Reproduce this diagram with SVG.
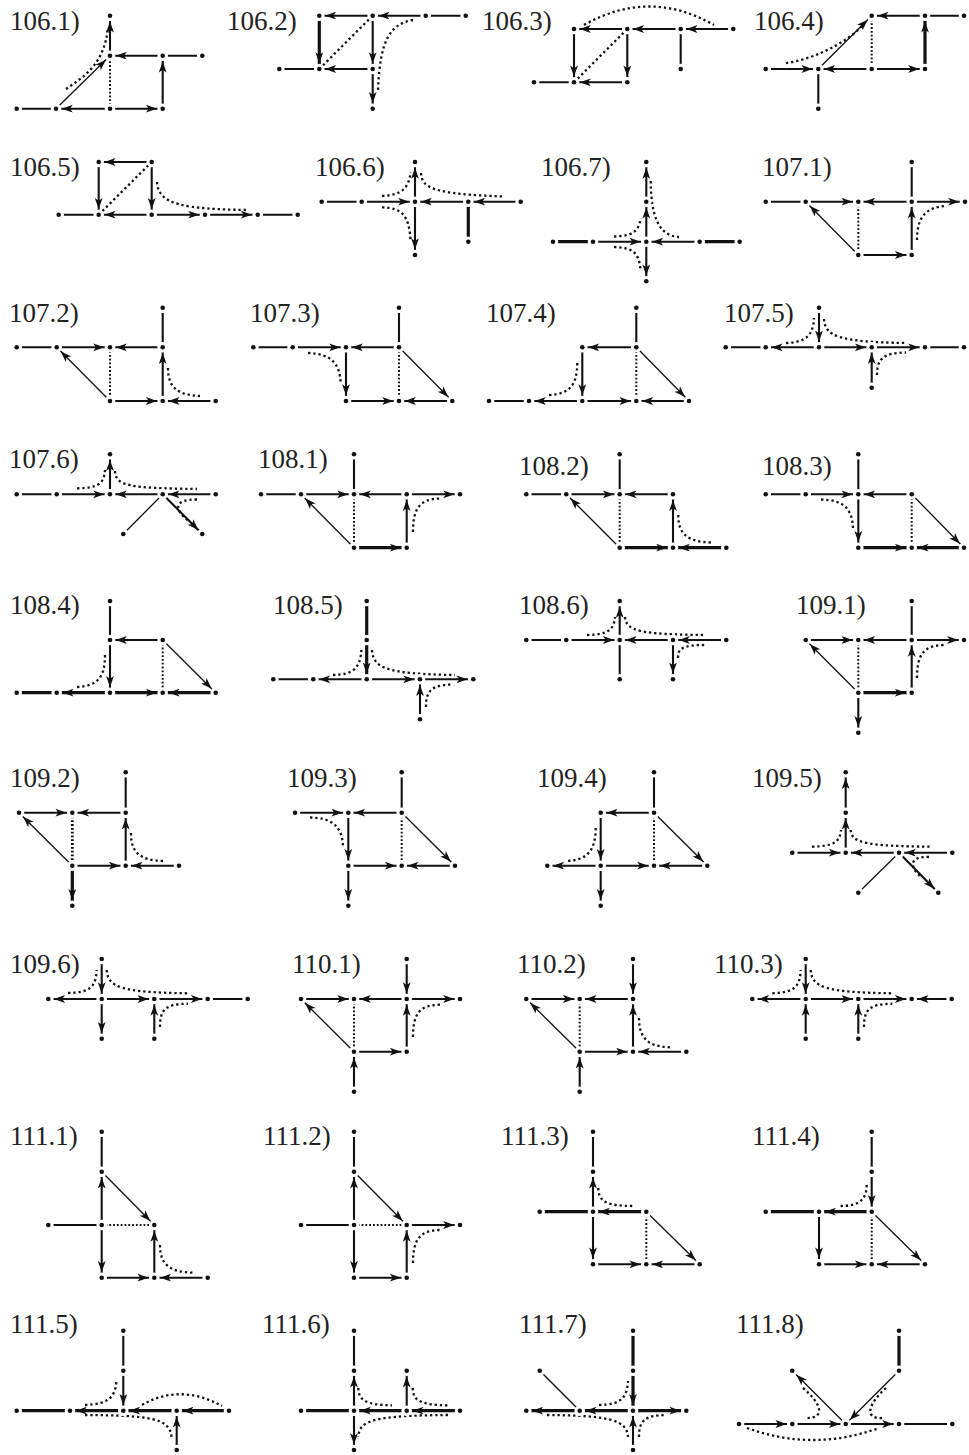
<svg xmlns="http://www.w3.org/2000/svg" xmlns:xlink="http://www.w3.org/1999/xlink" width="969" height="1455" viewBox="0 0 969 1455">
<style>
text{font-family:"Liberation Serif","Times New Roman",serif;font-size:27px;fill:#222}
.conn path{fill:none;stroke:#111;stroke-width:2.1}
.conn .t{stroke-width:3.2}
.conn .n{stroke-width:1.3}
.conn .d{stroke-dasharray:1.8 2;stroke-width:2}
.conn .c{stroke-dasharray:2.3 2.9;stroke-width:2.3}
.conn .a{marker-end:url(#ah)}
</style>
<defs>
<marker id="ah" markerUnits="userSpaceOnUse" orient="auto" markerWidth="20" markerHeight="10" refX="20" refY="5"><path d="M14.3,5L3.2,1.1L6,5L3.2,8.9Z" fill="#111"/></marker>
<g id="nd"><circle r="5.3" fill="#fff"/><circle r="2.3" fill="#111"/></g>
</defs>
<rect width="969" height="1455" fill="#fff"/>

<g id="f106_1"><text x="10" y="29.5">106.1)</text>
<g class="conn"><path d="M16.7,108.7H56"/><path class="a" d="M110,108.7H56"/><path class="a" d="M110,108.7H162.7"/><path class="a" d="M162.7,108.7V55.7"/><path class="a" d="M162.7,55.7H110"/><path d="M162.7,55.7H202.3"/><path class="a" d="M110,55.7V15.7"/><path class="d" d="M110,108.7V55.7"/><path class="n a" d="M56,108.7L110,55.7"/><path class="c" d="M66,89C85,76 104,64 108,28"/></g>
<g class="nodes"><use id="n1_1" href="#nd" x="16.7" y="108.7"/><use id="n1_2" href="#nd" x="56" y="108.7"/><use id="n1_3" href="#nd" x="110" y="108.7"/><use id="n1_4" href="#nd" x="162.7" y="108.7"/><use id="n1_5" href="#nd" x="110" y="55.7"/><use id="n1_6" href="#nd" x="162.7" y="55.7"/><use id="n1_7" href="#nd" x="202.3" y="55.7"/><use id="n1_8" href="#nd" x="110" y="15.7"/></g></g>

<g id="f106_2"><text x="227" y="29.5">106.2)</text>
<g class="conn"><path class="a" d="M372.7,15.7H319.3"/><path class="a" d="M425.7,15.7H372.7"/><path d="M425.7,15.7H465.7"/><path class="t a" d="M319.3,15.7V69"/><path class="a" d="M372.7,15.7V69"/><path class="a" d="M372.7,69H319.3"/><path d="M279.3,69H319.3"/><path class="a" d="M372.7,69V108.7"/><path class="c" d="M319.3,69L372.7,15.7"/><path class="c" d="M413,20C390,24 380,40 378,90"/></g>
<g class="nodes"><use id="n2_1" href="#nd" x="319.3" y="15.7"/><use id="n2_2" href="#nd" x="372.7" y="15.7"/><use id="n2_3" href="#nd" x="425.7" y="15.7"/><use id="n2_4" href="#nd" x="465.7" y="15.7"/><use id="n2_5" href="#nd" x="279.3" y="69"/><use id="n2_6" href="#nd" x="319.3" y="69"/><use id="n2_7" href="#nd" x="372.7" y="69"/><use id="n2_8" href="#nd" x="372.7" y="108.7"/></g></g>

<g id="f106_3"><text x="482" y="29.5">106.3)</text>
<g class="conn"><path class="a" d="M627.3,29H574"/><path class="a" d="M680.7,29H627.3"/><path class="a" d="M733.3,29H680.7"/><path class="a" d="M574,29V82.3"/><path class="a" d="M627.3,29V82.3"/><path class="a" d="M627.3,82.3H574"/><path d="M534,82.3H574"/><path d="M680.7,29V69"/><path class="c" d="M574,82.3L627.3,29"/><path class="c" d="M584,25Q649,-12 714,25"/></g>
<g class="nodes"><use id="n3_1" href="#nd" x="574" y="29"/><use id="n3_2" href="#nd" x="627.3" y="29"/><use id="n3_3" href="#nd" x="680.7" y="29"/><use id="n3_4" href="#nd" x="733.3" y="29"/><use id="n3_5" href="#nd" x="534" y="82.3"/><use id="n3_6" href="#nd" x="574" y="82.3"/><use id="n3_7" href="#nd" x="627.3" y="82.3"/><use id="n3_8" href="#nd" x="680.7" y="69"/></g></g>

<g id="f106_4"><text x="754" y="29.5">106.4)</text>
<g class="conn"><path class="a" d="M925,15.7H871.7"/><path d="M925,15.7H964"/><path class="a" d="M765.7,69H818.3"/><path class="a" d="M871.7,69H818.3"/><path class="a" d="M871.7,69H925"/><path class="t a" d="M925,69V15.7"/><path d="M818.3,69V108.7"/><path class="d" d="M871.7,15.7V69"/><path class="n a" d="M818.3,69L871.7,15.7"/><path class="c" d="M786,63C810,60 845,45 864,24"/></g>
<g class="nodes"><use id="n4_1" href="#nd" x="871.7" y="15.7"/><use id="n4_2" href="#nd" x="925" y="15.7"/><use id="n4_3" href="#nd" x="964" y="15.7"/><use id="n4_4" href="#nd" x="765.7" y="69"/><use id="n4_5" href="#nd" x="818.3" y="69"/><use id="n4_6" href="#nd" x="871.7" y="69"/><use id="n4_7" href="#nd" x="925" y="69"/><use id="n4_8" href="#nd" x="818.3" y="108.7"/></g></g>

<g id="f106_5"><text x="10" y="175.7">106.5)</text>
<g class="conn"><path class="a" d="M151.7,162H98.7"/><path class="a" d="M98.7,162V214.7"/><path class="a" d="M151.7,162V214.7"/><path class="a" d="M151.7,214.7H98.7"/><path d="M58.7,214.7H98.7"/><path class="a" d="M151.7,214.7H205"/><path class="a" d="M205,214.7H257.7"/><path d="M257.7,214.7H297.7"/><path class="c" d="M98.7,214.7L151.7,162"/><path class="c" d="M157,182C158,205 185,209 247,210"/></g>
<g class="nodes"><use id="n5_1" href="#nd" x="98.7" y="162"/><use id="n5_2" href="#nd" x="151.7" y="162"/><use id="n5_3" href="#nd" x="58.7" y="214.7"/><use id="n5_4" href="#nd" x="98.7" y="214.7"/><use id="n5_5" href="#nd" x="151.7" y="214.7"/><use id="n5_6" href="#nd" x="205" y="214.7"/><use id="n5_7" href="#nd" x="257.7" y="214.7"/><use id="n5_8" href="#nd" x="297.7" y="214.7"/></g></g>

<g id="f106_6"><text x="315" y="175.7">106.6)</text>
<g class="conn"><path d="M321.7,201.7H361.7"/><path class="a" d="M361.7,201.7H415"/><path class="a" d="M468.3,201.7H415"/><path class="a" d="M520.7,201.7H468.3"/><path class="a" d="M415,201.7V162"/><path class="a" d="M415,201.7V255"/><path class="t" d="M468.3,201.7V241.7"/><path class="c" d="M382,196C402,195 409,188 410.5,172"/><path class="c" d="M382,207.3C402,208 409,215 410.5,240"/><path class="c" d="M421,173C422,188 432,194 504,196.5"/></g>
<g class="nodes"><use id="n6_1" href="#nd" x="321.7" y="201.7"/><use id="n6_2" href="#nd" x="361.7" y="201.7"/><use id="n6_3" href="#nd" x="415" y="201.7"/><use id="n6_4" href="#nd" x="415" y="162"/><use id="n6_5" href="#nd" x="415" y="255"/><use id="n6_6" href="#nd" x="468.3" y="201.7"/><use id="n6_7" href="#nd" x="468.3" y="241.7"/><use id="n6_8" href="#nd" x="520.7" y="201.7"/></g></g>

<g id="f106_7"><text x="541" y="175.7">106.7)</text>
<g class="conn"><path class="t" d="M553,241.7H593"/><path class="a" d="M593,241.7H646.3"/><path class="a" d="M699.7,241.7H646.3"/><path class="t" d="M699.7,241.7H739.7"/><path class="a" d="M646.3,241.7V201.7"/><path class="a" d="M646.3,201.7V162"/><path class="a" d="M646.3,241.7V281.3"/><path class="c" d="M614,236.5C632,236 639,232 640.5,218"/><path class="c" d="M614,247C632,247.5 639,252 640.5,270"/><path class="c" d="M650.7,181C651,215 658,236 679,237"/></g>
<g class="nodes"><use id="n7_1" href="#nd" x="646.3" y="162"/><use id="n7_2" href="#nd" x="646.3" y="201.7"/><use id="n7_3" href="#nd" x="553" y="241.7"/><use id="n7_4" href="#nd" x="593" y="241.7"/><use id="n7_5" href="#nd" x="646.3" y="241.7"/><use id="n7_6" href="#nd" x="699.7" y="241.7"/><use id="n7_7" href="#nd" x="739.7" y="241.7"/><use id="n7_8" href="#nd" x="646.3" y="281.3"/></g></g>

<g id="f107_1"><text x="762" y="175.7">107.1)</text>
<g class="conn"><path d="M765.7,201.7H805.7"/><path class="a" d="M805.7,201.7H858.3"/><path class="a" d="M911.7,201.7H858.3"/><path class="a" d="M911.7,201.7H965"/><path d="M911.7,162V201.7"/><path class="a" d="M858.3,255H911.7"/><path class="a" d="M911.7,255V201.7"/><path class="d" d="M858.3,201.7V255"/><path class="n a" d="M858.3,255L805.7,201.7"/><path class="c" d="M917,240C917,218 925,207 946,206"/></g>
<g class="nodes"><use id="n8_1" href="#nd" x="765.7" y="201.7"/><use id="n8_2" href="#nd" x="805.7" y="201.7"/><use id="n8_3" href="#nd" x="858.3" y="201.7"/><use id="n8_4" href="#nd" x="911.7" y="201.7"/><use id="n8_5" href="#nd" x="965" y="201.7"/><use id="n8_6" href="#nd" x="911.7" y="162"/><use id="n8_7" href="#nd" x="858.3" y="255"/><use id="n8_8" href="#nd" x="911.7" y="255"/></g></g>

<g id="f107_2"><text x="9" y="322.3">107.2)</text>
<g class="conn"><path d="M16.7,347.3H56.7"/><path class="a" d="M56.7,347.3H110"/><path class="a" d="M162.7,347.3H110"/><path d="M162.7,307.7V347.3"/><path class="a" d="M110,401H162.7"/><path class="a" d="M215.7,401H162.7"/><path class="a" d="M162.7,401V347.3"/><path class="d" d="M110,347.3V401"/><path class="n a" d="M110,401L56.7,347.3"/><path class="c" d="M168,368C168,388 178,395 200,396"/></g>
<g class="nodes"><use id="n9_1" href="#nd" x="16.7" y="347.3"/><use id="n9_2" href="#nd" x="56.7" y="347.3"/><use id="n9_3" href="#nd" x="110" y="347.3"/><use id="n9_4" href="#nd" x="162.7" y="347.3"/><use id="n9_5" href="#nd" x="162.7" y="307.7"/><use id="n9_6" href="#nd" x="110" y="401"/><use id="n9_7" href="#nd" x="162.7" y="401"/><use id="n9_8" href="#nd" x="215.7" y="401"/></g></g>

<g id="f107_3"><text x="250" y="322.3">107.3)</text>
<g class="conn"><path d="M253.3,347.3H292.7"/><path class="a" d="M292.7,347.3H346"/><path class="a" d="M399,347.3H346"/><path d="M399,307.7V347.3"/><path class="a" d="M346,347.3V401"/><path class="a" d="M346,401H399"/><path class="a" d="M452.3,401H399"/><path class="d" d="M399,347.3V401"/><path class="n a" d="M399,347.3L452.3,401"/><path class="c" d="M308,353C330,354 340,362 340.7,384"/></g>
<g class="nodes"><use id="n10_1" href="#nd" x="253.3" y="347.3"/><use id="n10_2" href="#nd" x="292.7" y="347.3"/><use id="n10_3" href="#nd" x="346" y="347.3"/><use id="n10_4" href="#nd" x="399" y="347.3"/><use id="n10_5" href="#nd" x="399" y="307.7"/><use id="n10_6" href="#nd" x="346" y="401"/><use id="n10_7" href="#nd" x="399" y="401"/><use id="n10_8" href="#nd" x="452.3" y="401"/></g></g>

<g id="f107_4"><text x="486" y="322.3">107.4)</text>
<g class="conn"><path d="M636.3,307.7V347.3"/><path class="a" d="M636.3,347.3H582.3"/><path class="a" d="M582.3,347.3V401"/><path d="M489,401H529"/><path class="a" d="M582.3,401H529"/><path class="a" d="M582.3,401H636.3"/><path class="a" d="M689,401H636.3"/><path class="d" d="M636.3,347.3V401"/><path class="n a" d="M636.3,347.3L689,401"/><path class="c" d="M577.3,363C577,385 570,394 549,395"/></g>
<g class="nodes"><use id="n11_1" href="#nd" x="636.3" y="307.7"/><use id="n11_2" href="#nd" x="582.3" y="347.3"/><use id="n11_3" href="#nd" x="636.3" y="347.3"/><use id="n11_4" href="#nd" x="489" y="401"/><use id="n11_5" href="#nd" x="529" y="401"/><use id="n11_6" href="#nd" x="582.3" y="401"/><use id="n11_7" href="#nd" x="636.3" y="401"/><use id="n11_8" href="#nd" x="689" y="401"/></g></g>

<g id="f107_5"><text x="724" y="322.3">107.5)</text>
<g class="conn"><path d="M725.7,347.3H765.7"/><path class="a" d="M819,347.3H765.7"/><path class="a" d="M819,347.3H871.7"/><path class="a" d="M871.7,347.3H925"/><path d="M925,347.3H964"/><path class="a" d="M819,307.7V347.3"/><path class="a" d="M871.7,387.7V347.3"/><path class="c" d="M786,343C806,342 813,336 814,318"/><path class="c" d="M824,319C825,336 838,342 906,343"/><path class="c" d="M877,375C877,358 884,353 906,352.5"/></g>
<g class="nodes"><use id="n12_1" href="#nd" x="819" y="307.7"/><use id="n12_2" href="#nd" x="725.7" y="347.3"/><use id="n12_3" href="#nd" x="765.7" y="347.3"/><use id="n12_4" href="#nd" x="819" y="347.3"/><use id="n12_5" href="#nd" x="871.7" y="347.3"/><use id="n12_6" href="#nd" x="925" y="347.3"/><use id="n12_7" href="#nd" x="964" y="347.3"/><use id="n12_8" href="#nd" x="871.7" y="387.7"/></g></g>

<g id="f107_6"><text x="9" y="468">107.6)</text>
<g class="conn"><path d="M16.7,494.3H56.7"/><path class="a" d="M56.7,494.3H110"/><path class="a" d="M162.7,494.3H110"/><path class="a" d="M215.7,494.3H162.7"/><path class="a" d="M110,494.3V454.3"/><path class="n" d="M162.7,494.3L123.3,534"/><path class="a" d="M162.7,494.3L202.3,534"/><path class="c" d="M77,488.3C98,488 104,484 105,470"/><path class="c" d="M115,471C116,486 128,488 197,489"/><path class="c" d="M197,499.5C175,499 172,509 190,522"/></g>
<g class="nodes"><use id="n13_1" href="#nd" x="16.7" y="494.3"/><use id="n13_2" href="#nd" x="56.7" y="494.3"/><use id="n13_3" href="#nd" x="110" y="494.3"/><use id="n13_4" href="#nd" x="110" y="454.3"/><use id="n13_5" href="#nd" x="162.7" y="494.3"/><use id="n13_6" href="#nd" x="215.7" y="494.3"/><use id="n13_7" href="#nd" x="123.3" y="534"/><use id="n13_8" href="#nd" x="202.3" y="534"/></g></g>

<g id="f108_1"><text x="258" y="468">108.1)</text>
<g class="conn"><path d="M261,494.3H301"/><path class="a" d="M301,494.3H354"/><path class="a" d="M406.7,494.3H354"/><path class="a" d="M406.7,494.3H460"/><path d="M354,454.3V494.3"/><path class="t a" d="M354,547.7H406.7"/><path class="a" d="M406.7,547.7V494.3"/><path class="d" d="M354,494.3V547.7"/><path class="n a" d="M354,547.7L301,494.3"/><path class="c" d="M413,532C413,508 420,499 440,498.5"/></g>
<g class="nodes"><use id="n14_1" href="#nd" x="261" y="494.3"/><use id="n14_2" href="#nd" x="301" y="494.3"/><use id="n14_3" href="#nd" x="354" y="494.3"/><use id="n14_4" href="#nd" x="354" y="454.3"/><use id="n14_5" href="#nd" x="406.7" y="494.3"/><use id="n14_6" href="#nd" x="460" y="494.3"/><use id="n14_7" href="#nd" x="354" y="547.7"/><use id="n14_8" href="#nd" x="406.7" y="547.7"/></g></g>

<g id="f108_2"><text x="519" y="475">108.2)</text>
<g class="conn"><path d="M526.3,494.3H566.3"/><path class="a" d="M566.3,494.3H619.7"/><path class="a" d="M673,494.3H619.7"/><path d="M619.7,454.3V494.3"/><path class="t a" d="M619.7,547.7H673"/><path class="t a" d="M726.3,547.7H673"/><path class="a" d="M673,547.7V494.3"/><path class="d" d="M619.7,494.3V547.7"/><path class="n a" d="M619.7,547.7L566.3,494.3"/><path class="c" d="M678.3,515C678,534 688,542 711,542.5"/></g>
<g class="nodes"><use id="n15_1" href="#nd" x="619.7" y="454.3"/><use id="n15_2" href="#nd" x="526.3" y="494.3"/><use id="n15_3" href="#nd" x="566.3" y="494.3"/><use id="n15_4" href="#nd" x="619.7" y="494.3"/><use id="n15_5" href="#nd" x="673" y="494.3"/><use id="n15_6" href="#nd" x="619.7" y="547.7"/><use id="n15_7" href="#nd" x="673" y="547.7"/><use id="n15_8" href="#nd" x="726.3" y="547.7"/></g></g>

<g id="f108_3"><text x="762" y="475">108.3)</text>
<g class="conn"><path d="M765.7,494.3H805.7"/><path class="a" d="M805.7,494.3H858.3"/><path class="a" d="M911.7,494.3H858.3"/><path d="M858.3,454.3V494.3"/><path class="a" d="M858.3,494.3V547.7"/><path class="t a" d="M858.3,547.7H911.7"/><path class="t a" d="M964,547.7H911.7"/><path class="d" d="M911.7,494.3V547.7"/><path class="n a" d="M911.7,494.3L964,547.7"/><path class="c" d="M821,499.5C843,500 852,508 853,528"/></g>
<g class="nodes"><use id="n16_1" href="#nd" x="858.3" y="454.3"/><use id="n16_2" href="#nd" x="765.7" y="494.3"/><use id="n16_3" href="#nd" x="805.7" y="494.3"/><use id="n16_4" href="#nd" x="858.3" y="494.3"/><use id="n16_5" href="#nd" x="911.7" y="494.3"/><use id="n16_6" href="#nd" x="858.3" y="547.7"/><use id="n16_7" href="#nd" x="911.7" y="547.7"/><use id="n16_8" href="#nd" x="964" y="547.7"/></g></g>

<g id="f108_4"><text x="10" y="614.3">108.4)</text>
<g class="conn"><path d="M110,601V640"/><path class="a" d="M162.7,640H110"/><path class="a" d="M110,640V692.7"/><path class="t" d="M16.7,692.7H56.7"/><path class="t a" d="M110,692.7H56.7"/><path class="t a" d="M110,692.7H162.7"/><path class="t a" d="M215.7,692.7H162.7"/><path class="d" d="M162.7,640V692.7"/><path class="n a" d="M162.7,640L215.7,692.7"/><path class="c" d="M105,655C105,677 98,686 77,687"/></g>
<g class="nodes"><use id="n17_1" href="#nd" x="110" y="601"/><use id="n17_2" href="#nd" x="110" y="640"/><use id="n17_3" href="#nd" x="162.7" y="640"/><use id="n17_4" href="#nd" x="16.7" y="692.7"/><use id="n17_5" href="#nd" x="56.7" y="692.7"/><use id="n17_6" href="#nd" x="110" y="692.7"/><use id="n17_7" href="#nd" x="162.7" y="692.7"/><use id="n17_8" href="#nd" x="215.7" y="692.7"/></g></g>

<g id="f108_5"><text x="273" y="614.3">108.5)</text>
<g class="conn"><path class="t" d="M366.7,601V640"/><path class="t a" d="M366.7,640V679.3"/><path d="M273.3,679.3H313.3"/><path class="a" d="M366.7,679.3H313.3"/><path class="a" d="M366.7,679.3H420"/><path class="a" d="M420,679.3H473.3"/><path class="a" d="M420,719.3V679.3"/><path class="c" d="M333,675C354,674.5 360,668 361.5,650"/><path class="c" d="M372,650C373,668 386,674 455,675"/><path class="c" d="M426,707C426,690 432,685 453,684.5"/></g>
<g class="nodes"><use id="n18_1" href="#nd" x="366.7" y="601"/><use id="n18_2" href="#nd" x="366.7" y="640"/><use id="n18_3" href="#nd" x="273.3" y="679.3"/><use id="n18_4" href="#nd" x="313.3" y="679.3"/><use id="n18_5" href="#nd" x="366.7" y="679.3"/><use id="n18_6" href="#nd" x="420" y="679.3"/><use id="n18_7" href="#nd" x="473.3" y="679.3"/><use id="n18_8" href="#nd" x="420" y="719.3"/></g></g>

<g id="f108_6"><text x="519" y="614.3">108.6)</text>
<g class="conn"><path d="M526.3,640H566.3"/><path class="a" d="M566.3,640H619.7"/><path class="a" d="M673,640H619.7"/><path class="a" d="M726.3,640H673"/><path class="a" d="M619.7,640V601"/><path d="M619.7,640V679.3"/><path class="a" d="M673,640V679.3"/><path class="c" d="M587,635C608,634.5 614,630 615,617"/><path class="c" d="M625,617C626,631 640,634.5 706,635"/><path class="c" d="M678,658C678,648 683,645 706,645"/></g>
<g class="nodes"><use id="n19_1" href="#nd" x="619.7" y="601"/><use id="n19_2" href="#nd" x="526.3" y="640"/><use id="n19_3" href="#nd" x="566.3" y="640"/><use id="n19_4" href="#nd" x="619.7" y="640"/><use id="n19_5" href="#nd" x="673" y="640"/><use id="n19_6" href="#nd" x="726.3" y="640"/><use id="n19_7" href="#nd" x="619.7" y="679.3"/><use id="n19_8" href="#nd" x="673" y="679.3"/></g></g>

<g id="f109_1"><text x="796" y="614.3">109.1)</text>
<g class="conn"><path class="a" d="M805.7,640H858.3"/><path class="a" d="M911.7,640H858.3"/><path class="a" d="M911.7,640H964"/><path d="M911.7,601V640"/><path class="t a" d="M858.3,692.7H911.7"/><path class="a" d="M911.7,692.7V640"/><path class="d" d="M858.3,640V692.7"/><path class="n a" d="M858.3,692.7L805.7,640"/><path class="a" d="M858.3,692.7V732.7"/><path class="c" d="M917,678C917,654 924,645.5 944,645"/></g>
<g class="nodes"><use id="n20_1" href="#nd" x="911.7" y="601"/><use id="n20_2" href="#nd" x="805.7" y="640"/><use id="n20_3" href="#nd" x="858.3" y="640"/><use id="n20_4" href="#nd" x="911.7" y="640"/><use id="n20_5" href="#nd" x="964" y="640"/><use id="n20_6" href="#nd" x="858.3" y="692.7"/><use id="n20_7" href="#nd" x="911.7" y="692.7"/><use id="n20_8" href="#nd" x="858.3" y="732.7"/></g></g>

<g id="f109_2"><text x="10" y="786.7">109.2)</text>
<g class="conn"><path class="a" d="M19,812.7H72.3"/><path class="a" d="M125.7,812.7H72.3"/><path d="M125.7,772.3V812.7"/><path class="a" d="M72.3,865.7H125.7"/><path class="a" d="M179,865.7H125.7"/><path class="a" d="M125.7,865.7V812.7"/><path class="d" style="stroke-width:2.8" d="M72.3,812.7V865.7"/><path class="n a" d="M72.3,865.7L19,812.7"/><path class="t a" d="M72.3,865.7V905.7"/><path class="c" d="M131,833C131,853 140,860 163,861"/></g>
<g class="nodes"><use id="n21_1" href="#nd" x="125.7" y="772.3"/><use id="n21_2" href="#nd" x="19" y="812.7"/><use id="n21_3" href="#nd" x="72.3" y="812.7"/><use id="n21_4" href="#nd" x="125.7" y="812.7"/><use id="n21_5" href="#nd" x="72.3" y="865.7"/><use id="n21_6" href="#nd" x="125.7" y="865.7"/><use id="n21_7" href="#nd" x="179" y="865.7"/><use id="n21_8" href="#nd" x="72.3" y="905.7"/></g></g>

<g id="f109_3"><text x="287" y="786.7">109.3)</text>
<g class="conn"><path class="a" d="M295,812.7H348.3"/><path class="a" d="M401.7,812.7H348.3"/><path d="M401.7,772.3V812.7"/><path class="a" d="M348.3,812.7V865.7"/><path class="a" d="M348.3,865.7H401.7"/><path class="a" d="M455,865.7H401.7"/><path class="a" d="M348.3,865.7V905.7"/><path class="d" d="M401.7,812.7V865.7"/><path class="n a" d="M401.7,812.7L455,865.7"/><path class="c" d="M310,817.5C332,818 342,826 343,846"/></g>
<g class="nodes"><use id="n22_1" href="#nd" x="401.7" y="772.3"/><use id="n22_2" href="#nd" x="295" y="812.7"/><use id="n22_3" href="#nd" x="348.3" y="812.7"/><use id="n22_4" href="#nd" x="401.7" y="812.7"/><use id="n22_5" href="#nd" x="348.3" y="865.7"/><use id="n22_6" href="#nd" x="401.7" y="865.7"/><use id="n22_7" href="#nd" x="455" y="865.7"/><use id="n22_8" href="#nd" x="348.3" y="905.7"/></g></g>

<g id="f109_4"><text x="537" y="786.7">109.4)</text>
<g class="conn"><path d="M654,772.3V812.7"/><path class="a" d="M654,812.7H600.7"/><path class="a" d="M600.7,812.7V865.7"/><path class="a" d="M600.7,865.7H547.3"/><path class="a" d="M600.7,865.7H654"/><path class="a" d="M707.3,865.7H654"/><path class="a" d="M600.7,865.7V905.7"/><path class="d" d="M654,812.7V865.7"/><path class="n a" d="M654,812.7L707.3,865.7"/><path class="c" d="M595.7,828C595.5,850 588,860 567,861"/></g>
<g class="nodes"><use id="n23_1" href="#nd" x="654" y="772.3"/><use id="n23_2" href="#nd" x="600.7" y="812.7"/><use id="n23_3" href="#nd" x="654" y="812.7"/><use id="n23_4" href="#nd" x="547.3" y="865.7"/><use id="n23_5" href="#nd" x="600.7" y="865.7"/><use id="n23_6" href="#nd" x="654" y="865.7"/><use id="n23_7" href="#nd" x="707.3" y="865.7"/><use id="n23_8" href="#nd" x="600.7" y="905.7"/></g></g>

<g id="f109_5"><text x="752" y="786.7">109.5)</text>
<g class="conn"><path class="a" d="M845.7,812.7V772.3"/><path class="a" d="M845.7,852.7V812.7"/><path class="a" d="M792.3,852.7H845.7"/><path class="a" d="M899,852.7H845.7"/><path class="a" d="M952.3,852.7H899"/><path class="n" d="M899,852.7L858.3,892.7"/><path class="a" d="M899,852.7L938.3,892.7"/><path class="c" d="M812,846.7C834,846 840,842 841,830"/><path class="c" d="M850.7,830C851.5,843 866,846 931,846.7"/><path class="c" d="M929,857C910,856 908,866 922,878"/></g>
<g class="nodes"><use id="n24_1" href="#nd" x="845.7" y="772.3"/><use id="n24_2" href="#nd" x="845.7" y="812.7"/><use id="n24_3" href="#nd" x="792.3" y="852.7"/><use id="n24_4" href="#nd" x="845.7" y="852.7"/><use id="n24_5" href="#nd" x="899" y="852.7"/><use id="n24_6" href="#nd" x="952.3" y="852.7"/><use id="n24_7" href="#nd" x="858.3" y="892.7"/><use id="n24_8" href="#nd" x="938.3" y="892.7"/></g></g>

<g id="f109_6"><text x="10" y="972.7">109.6)</text>
<g class="conn"><path class="a" d="M101.7,959V999"/><path class="a" d="M101.7,999H48.3"/><path class="a" d="M101.7,999H154.3"/><path class="a" d="M154.3,999H207.7"/><path d="M207.7,999H247.7"/><path class="a" d="M101.7,999V1038.7"/><path class="a" d="M154.3,1038.7V999"/><path class="c" d="M68,993C90,992.5 96,987 96.7,970"/><path class="c" d="M106.7,970C107.5,987 121,992.5 188,993.3"/><path class="c" d="M160,1027C160,1009 166,1004 188,1003.7"/></g>
<g class="nodes"><use id="n25_1" href="#nd" x="101.7" y="959"/><use id="n25_2" href="#nd" x="48.3" y="999"/><use id="n25_3" href="#nd" x="101.7" y="999"/><use id="n25_4" href="#nd" x="154.3" y="999"/><use id="n25_5" href="#nd" x="207.7" y="999"/><use id="n25_6" href="#nd" x="247.7" y="999"/><use id="n25_7" href="#nd" x="101.7" y="1038.7"/><use id="n25_8" href="#nd" x="154.3" y="1038.7"/></g></g>

<g id="f110_1"><text x="292" y="972.7">110.1)</text>
<g class="conn"><path class="a" d="M406.7,959V999"/><path class="a" d="M301,999H354"/><path class="a" d="M406.7,999H354"/><path class="a" d="M406.7,999H460"/><path class="a" d="M354,1051.7H406.7"/><path class="a" d="M406.7,1051.7V999"/><path class="d" d="M354,999V1051.7"/><path class="n a" d="M354,1051.7L301,999"/><path class="a" d="M354,1091.7V1051.7"/><path class="c" d="M413,1037C413,1013 420,1005 440,1004.7"/></g>
<g class="nodes"><use id="n26_1" href="#nd" x="406.7" y="959"/><use id="n26_2" href="#nd" x="301" y="999"/><use id="n26_3" href="#nd" x="354" y="999"/><use id="n26_4" href="#nd" x="406.7" y="999"/><use id="n26_5" href="#nd" x="460" y="999"/><use id="n26_6" href="#nd" x="354" y="1051.7"/><use id="n26_7" href="#nd" x="406.7" y="1051.7"/><use id="n26_8" href="#nd" x="354" y="1091.7"/></g></g>

<g id="f110_2"><text x="517" y="972.7">110.2)</text>
<g class="conn"><path class="a" d="M633,959V999"/><path class="a" d="M526.3,999H579.7"/><path class="a" d="M633,999H579.7"/><path class="a" d="M579.7,1051.7H633"/><path class="a" d="M686.3,1051.7H633"/><path class="a" d="M633,1051.7V999"/><path class="d" d="M579.7,999V1051.7"/><path class="n a" d="M579.7,1051.7L526.3,999"/><path class="a" d="M579.7,1091.7V1051.7"/><path class="c" d="M639,1018C639,1038 648,1047 671,1047.3"/></g>
<g class="nodes"><use id="n27_1" href="#nd" x="633" y="959"/><use id="n27_2" href="#nd" x="526.3" y="999"/><use id="n27_3" href="#nd" x="579.7" y="999"/><use id="n27_4" href="#nd" x="633" y="999"/><use id="n27_5" href="#nd" x="579.7" y="1051.7"/><use id="n27_6" href="#nd" x="633" y="1051.7"/><use id="n27_7" href="#nd" x="686.3" y="1051.7"/><use id="n27_8" href="#nd" x="579.7" y="1091.7"/></g></g>

<g id="f110_3"><text x="714" y="972.7">110.3)</text>
<g class="conn"><path class="a" d="M805.7,959V999"/><path class="a" d="M805.7,999H752.3"/><path class="a" d="M805.7,999H858.3"/><path class="a" d="M858.3,999H911.7"/><path class="a" d="M951.7,999H911.7"/><path class="a" d="M805.7,1038.7V999"/><path class="a" d="M858.3,1038.7V999"/><path class="c" d="M772.3,993.3C794,992.5 800,987 800.7,970"/><path class="c" d="M810.7,970C811.5,987 825,992.5 892.3,993.3"/><path class="c" d="M864,1027C864,1009 870,1004 892.3,1003.7"/></g>
<g class="nodes"><use id="n28_1" href="#nd" x="805.7" y="959"/><use id="n28_2" href="#nd" x="752.3" y="999"/><use id="n28_3" href="#nd" x="805.7" y="999"/><use id="n28_4" href="#nd" x="858.3" y="999"/><use id="n28_5" href="#nd" x="911.7" y="999"/><use id="n28_6" href="#nd" x="951.7" y="999"/><use id="n28_7" href="#nd" x="805.7" y="1038.7"/><use id="n28_8" href="#nd" x="858.3" y="1038.7"/></g></g>

<g id="f111_1"><text x="10" y="1145">111.1)</text>
<g class="conn"><path d="M101.7,1131.7V1171.7"/><path class="a" d="M101.7,1225V1171.7"/><path d="M48.3,1225H101.7"/><path class="d" d="M101.7,1225H154.3"/><path class="n a" d="M101.7,1171.7L154.3,1225"/><path class="a" d="M101.7,1225V1277.7"/><path class="a" d="M101.7,1277.7H154.3"/><path class="a" d="M207.7,1277.7H154.3"/><path class="a" d="M154.3,1277.7V1225"/><path class="c" d="M160,1245C160,1265 170,1272 193,1272.7"/></g>
<g class="nodes"><use id="n29_1" href="#nd" x="101.7" y="1131.7"/><use id="n29_2" href="#nd" x="101.7" y="1171.7"/><use id="n29_3" href="#nd" x="48.3" y="1225"/><use id="n29_4" href="#nd" x="101.7" y="1225"/><use id="n29_5" href="#nd" x="154.3" y="1225"/><use id="n29_6" href="#nd" x="101.7" y="1277.7"/><use id="n29_7" href="#nd" x="154.3" y="1277.7"/><use id="n29_8" href="#nd" x="207.7" y="1277.7"/></g></g>

<g id="f111_2"><text x="263" y="1145">111.2)</text>
<g class="conn"><path d="M354,1131.7V1171.7"/><path class="a" d="M354,1225V1171.7"/><path d="M301,1225H354"/><path class="d" d="M354,1225H406.7"/><path class="a" d="M406.7,1225H460"/><path class="n a" d="M354,1171.7L406.7,1225"/><path class="a" d="M354,1225V1277.7"/><path class="a" d="M354,1277.7H406.7"/><path class="a" d="M406.7,1277.7V1225"/><path class="c" d="M413,1263C413,1239 420,1230.5 440,1230"/></g>
<g class="nodes"><use id="n30_1" href="#nd" x="354" y="1131.7"/><use id="n30_2" href="#nd" x="354" y="1171.7"/><use id="n30_3" href="#nd" x="301" y="1225"/><use id="n30_4" href="#nd" x="354" y="1225"/><use id="n30_5" href="#nd" x="406.7" y="1225"/><use id="n30_6" href="#nd" x="460" y="1225"/><use id="n30_7" href="#nd" x="354" y="1277.7"/><use id="n30_8" href="#nd" x="406.7" y="1277.7"/></g></g>

<g id="f111_3"><text x="501" y="1145">111.3)</text>
<g class="conn"><path d="M593,1131.7V1171.7"/><path class="a" d="M593,1211.7V1171.7"/><path class="t" d="M539.7,1211.7H593"/><path class="t a" d="M646.3,1211.7H593"/><path class="a" d="M593,1211.7V1264.3"/><path class="a" d="M593,1264.3H646.3"/><path class="a" d="M699.7,1264.3H646.3"/><path class="d" d="M646.3,1211.7V1264.3"/><path class="n a" d="M646.3,1211.7L699.7,1264.3"/><path class="c" d="M598.3,1188C598.5,1202 607,1206 634,1206"/></g>
<g class="nodes"><use id="n31_1" href="#nd" x="593" y="1131.7"/><use id="n31_2" href="#nd" x="593" y="1171.7"/><use id="n31_3" href="#nd" x="539.7" y="1211.7"/><use id="n31_4" href="#nd" x="593" y="1211.7"/><use id="n31_5" href="#nd" x="646.3" y="1211.7"/><use id="n31_6" href="#nd" x="593" y="1264.3"/><use id="n31_7" href="#nd" x="646.3" y="1264.3"/><use id="n31_8" href="#nd" x="699.7" y="1264.3"/></g></g>

<g id="f111_4"><text x="752" y="1145">111.4)</text>
<g class="conn"><path d="M871.7,1131.7V1171.7"/><path class="a" d="M871.7,1171.7V1211.7"/><path class="t" d="M765.7,1211.7H819"/><path class="t a" d="M871.7,1211.7H819"/><path class="a" d="M819,1211.7V1264.3"/><path class="a" d="M819,1264.3H871.7"/><path class="a" d="M925,1264.3H871.7"/><path class="d" d="M871.7,1211.7V1264.3"/><path class="n a" d="M871.7,1211.7L925,1264.3"/><path class="c" d="M866.7,1185C866.5,1201 858,1206 839,1206"/></g>
<g class="nodes"><use id="n32_1" href="#nd" x="871.7" y="1131.7"/><use id="n32_2" href="#nd" x="871.7" y="1171.7"/><use id="n32_3" href="#nd" x="765.7" y="1211.7"/><use id="n32_4" href="#nd" x="819" y="1211.7"/><use id="n32_5" href="#nd" x="871.7" y="1211.7"/><use id="n32_6" href="#nd" x="819" y="1264.3"/><use id="n32_7" href="#nd" x="871.7" y="1264.3"/><use id="n32_8" href="#nd" x="925" y="1264.3"/></g></g>

<g id="f111_5"><text x="10" y="1333.3">111.5)</text>
<g class="conn"><path d="M123.3,1330.7V1370.7"/><path class="a" d="M123.3,1370.7V1410.7"/><path class="t" d="M16.7,1410.7H70"/><path class="t a" d="M123.3,1410.7H70"/><path class="t a" d="M176.7,1410.7H123.3"/><path class="t a" d="M229,1410.7H176.7"/><path class="a" d="M176.7,1450V1410.7"/><path class="c" d="M85,1405C108,1404 115,1398 116.5,1381"/><path class="c" d="M85,1415C150,1415.5 170,1418 171.5,1437"/><path class="c" d="M142,1405Q180,1383 222,1406"/></g>
<g class="nodes"><use id="n33_1" href="#nd" x="123.3" y="1330.7"/><use id="n33_2" href="#nd" x="123.3" y="1370.7"/><use id="n33_3" href="#nd" x="16.7" y="1410.7"/><use id="n33_4" href="#nd" x="70" y="1410.7"/><use id="n33_5" href="#nd" x="123.3" y="1410.7"/><use id="n33_6" href="#nd" x="176.7" y="1410.7"/><use id="n33_7" href="#nd" x="229" y="1410.7"/><use id="n33_8" href="#nd" x="176.7" y="1450"/></g></g>

<g id="f111_6"><text x="262" y="1333.3">111.6)</text>
<g class="conn"><path d="M354,1330.7V1370.7"/><path class="a" d="M354,1410.7V1370.7"/><path class="a" d="M406.7,1410.7V1370.7"/><path class="t" d="M301,1410.7H354"/><path class="t a" d="M406.7,1410.7H354"/><path class="t a" d="M460,1410.7H406.7"/><path class="a" d="M354,1410.7V1450"/><path class="c" d="M358.3,1388C358.5,1401 367,1405 392,1405.3"/><path class="c" d="M412.7,1388C413,1401 421,1405 448,1405.3"/><path class="c" d="M448,1415C375,1415.5 359,1420 358.3,1437"/></g>
<g class="nodes"><use id="n34_1" href="#nd" x="354" y="1330.7"/><use id="n34_2" href="#nd" x="354" y="1370.7"/><use id="n34_3" href="#nd" x="406.7" y="1370.7"/><use id="n34_4" href="#nd" x="301" y="1410.7"/><use id="n34_5" href="#nd" x="354" y="1410.7"/><use id="n34_6" href="#nd" x="406.7" y="1410.7"/><use id="n34_7" href="#nd" x="460" y="1410.7"/><use id="n34_8" href="#nd" x="354" y="1450"/></g></g>

<g id="f111_7"><text x="519" y="1333.3">111.7)</text>
<g class="conn"><path class="t" d="M633,1330.7V1370.7"/><path class="t a" d="M633,1370.7V1410.7"/><path class="a" d="M633,1450V1410.7"/><path class="n" d="M539.7,1370.7L579.7,1410.7"/><path class="t a" d="M579.7,1410.7H526.3"/><path class="t a" d="M633,1410.7H579.7"/><path class="t a" d="M633,1410.7H686.3"/><path class="c" d="M599,1405C621,1404.5 627,1398 628,1381"/><path class="c" d="M547,1415C610,1415.5 627,1420 628,1437"/><path class="c" d="M639,1437C639,1420 645,1415.5 666,1415"/></g>
<g class="nodes"><use id="n35_1" href="#nd" x="633" y="1330.7"/><use id="n35_2" href="#nd" x="539.7" y="1370.7"/><use id="n35_3" href="#nd" x="633" y="1370.7"/><use id="n35_4" href="#nd" x="526.3" y="1410.7"/><use id="n35_5" href="#nd" x="579.7" y="1410.7"/><use id="n35_6" href="#nd" x="633" y="1410.7"/><use id="n35_7" href="#nd" x="686.3" y="1410.7"/><use id="n35_8" href="#nd" x="633" y="1450"/></g></g>

<g id="f111_8"><text x="736" y="1333.3">111.8)</text>
<g class="conn"><path class="t" d="M899,1330.7V1370.7"/><path class="a" d="M739,1424H792.3"/><path class="a" d="M792.3,1424H845.7"/><path class="a" d="M845.7,1424H899"/><path d="M899,1424H952.3"/><path class="n a" d="M845.7,1424L792.3,1370.7"/><path class="n a" d="M899,1370.7L845.7,1424"/><path class="c" d="M803,1388C822,1404 826,1419 805,1418"/><path class="c" d="M886,1388C868,1404 864,1419 882,1418"/><path class="c" d="M747,1428Q813,1452 879,1428"/></g>
<g class="nodes"><use id="n36_1" href="#nd" x="899" y="1330.7"/><use id="n36_2" href="#nd" x="792.3" y="1370.7"/><use id="n36_3" href="#nd" x="899" y="1370.7"/><use id="n36_4" href="#nd" x="739" y="1424"/><use id="n36_5" href="#nd" x="792.3" y="1424"/><use id="n36_6" href="#nd" x="845.7" y="1424"/><use id="n36_7" href="#nd" x="899" y="1424"/><use id="n36_8" href="#nd" x="952.3" y="1424"/></g></g>
</svg>
